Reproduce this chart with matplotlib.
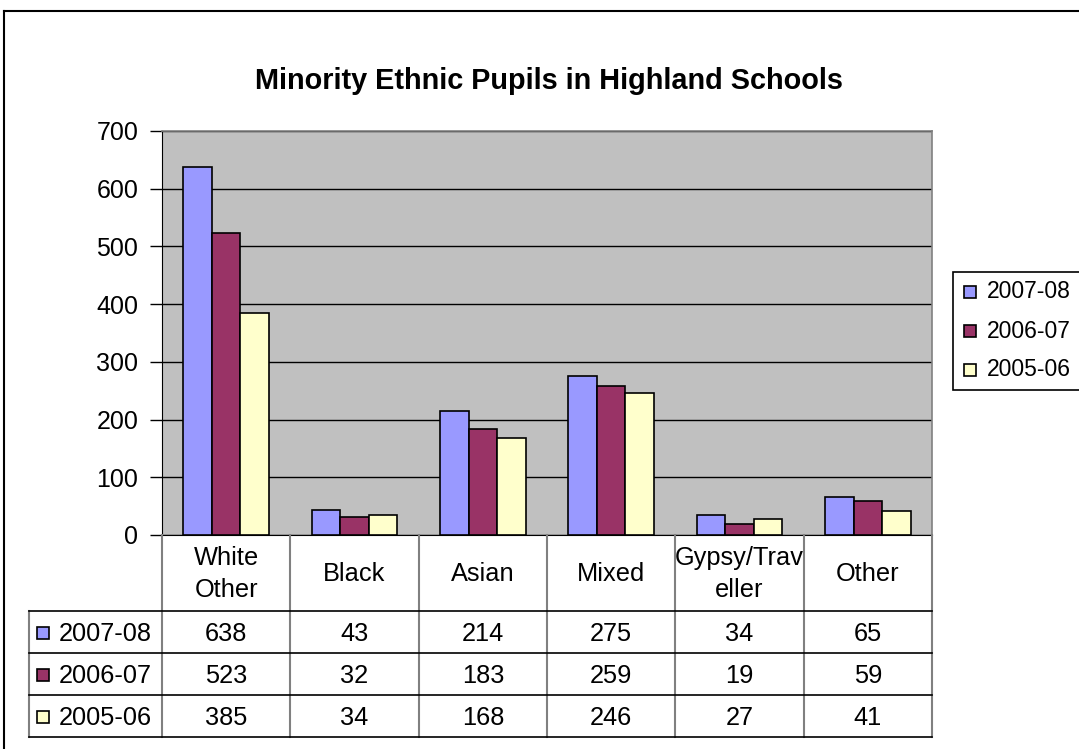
import matplotlib
matplotlib.use("Agg")
import matplotlib.pyplot as plt
import numpy as np
from matplotlib.patches import Rectangle
from matplotlib.lines import Line2D

plt.rcParams['font.family'] = ['Liberation Sans', 'DejaVu Sans']

categories = ["White\nOther", "Black", "Asian", "Mixed", "Gypsy/Trav\neller", "Other"]
series_names = ["2007-08", "2006-07", "2005-06"]
v_2007_08 = [638, 43, 214, 275, 34, 65]
v_2006_07 = [523, 32, 183, 259, 19, 59]
v_2005_06 = [385, 34, 168, 246, 27, 41]
series_values = [v_2007_08, v_2006_07, v_2005_06]
colors = ["#9999FF", "#993366", "#FFFFCC"]
yticks = [0, 100, 200, 300, 400, 500, 600, 700]

W, H = 1079, 749
fig = plt.figure(figsize=(W / 100, H / 100), dpi=100)

# pixel geometry
px_left, px_right = 162, 932
px_top, px_bottom = 131, 535
ax = fig.add_axes([px_left / W, 1 - px_bottom / H, (px_right - px_left) / W, (px_bottom - px_top) / H])
ax.set_facecolor("#C0C0C0")
n = len(categories)
x = np.arange(n)
bw = 1 / 4.5
for i, (vals, c) in enumerate(zip(series_values, colors)):
    ax.bar(x + (i - 1) * bw, vals, width=bw, color=c, edgecolor="black", linewidth=1.2, zorder=3)
ax.set_xlim(-0.5, n - 0.5)
ax.set_ylim(0, 700)
ax.set_yticks(yticks)
ax.set_yticklabels([str(t) for t in yticks], fontsize=18)
ax.tick_params(axis='y', length=9, width=1, pad=8, color="black")
ax.set_xticks([])
ax.yaxis.grid(True, color="black", linewidth=1, zorder=1)
ax.set_axisbelow(True)
for s in ["top", "right"]:
    ax.spines[s].set_color("#808080")
    ax.spines[s].set_linewidth(1.2)
ax.spines["left"].set_color("black")
ax.spines["bottom"].set_color("black")

# overlay pixel axes
ov = fig.add_axes([0, 0, 1, 1], zorder=5)
ov.set_xlim(0, W)
ov.set_ylim(H, 0)
ov.axis("off")
ov.patch.set_alpha(0)

# outer frame
ov.add_line(Line2D([4, 4], [11, H], color="black", lw=1.5))
ov.add_line(Line2D([4, W], [11, 11], color="black", lw=1.5))

# title
ov.text((px_left + px_right) / 2 + 2, 81, "Minority Ethnic Pupils in Highland Schools",
        ha="center", va="center", fontsize=20.8, fontweight="bold")

# table
col_w = (px_right - px_left) / n
edges = [px_left + i * col_w for i in range(n + 1)]
hdr_top, hdr_bot = px_bottom, 611
row_edges = [611, 653, 695, 737]
lab_left = 29
grey = "#808080"
for e in edges:
    ov.add_line(Line2D([e, e], [hdr_top, row_edges[-1]], color=grey, lw=1.5))
ov.add_line(Line2D([lab_left, lab_left], [row_edges[0], row_edges[-1]], color=grey, lw=1.5))
for y in row_edges:
    ov.add_line(Line2D([lab_left, px_right], [y, y], color="black", lw=1.2))
for i, cat in enumerate(categories):
    cx = (edges[i] + edges[i + 1]) / 2
    ov.text(cx, (hdr_top + hdr_bot) / 2 + 1, cat, ha="center", va="center", fontsize=18.3, linespacing=1.4)
for r, (name, vals, c) in enumerate(zip(series_names, series_values, colors)):
    cy = (row_edges[r] + row_edges[r + 1]) / 2 + 2
    ov.add_patch(Rectangle((37, cy - 7), 12, 12, facecolor=c, edgecolor="black", lw=1.2))
    ov.text(59, cy, name, ha="left", va="center", fontsize=18.3)
    for i, v in enumerate(vals):
        cx = (edges[i] + edges[i + 1]) / 2
        ov.text(cx, cy, str(v), ha="center", va="center", fontsize=18.3)

# legend
ov.add_patch(Rectangle((953, 272), 200, 118, facecolor="white", edgecolor="black", lw=1.2, clip_on=False))
leg_y = [292, 331, 370]
for k, (name, c) in enumerate(zip(series_names, colors)):
    ov.add_patch(Rectangle((964, leg_y[k] - 6), 12, 12, facecolor=c, edgecolor="black", lw=1.2))
    ov.text(987, leg_y[k], name, ha="left", va="center", fontsize=16.5)

fig.savefig("out.png", dpi=100)
